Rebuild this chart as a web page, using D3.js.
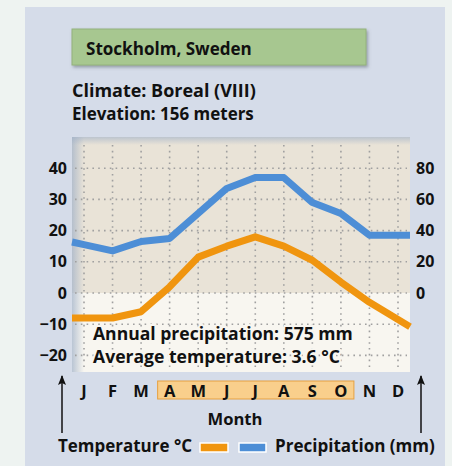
<!DOCTYPE html>
<html><head><meta charset="utf-8">
<script src="https://cdn.jsdelivr.net/npm/d3@7"></script>
<style>
body{margin:0;background:#eef3f1}
svg{display:block}
text{font-family:"Open Sans","Noto Sans",sans-serif;font-weight:bold;fill:#111}
</style>
</head><body><svg id="c" width="452" height="466"></svg>
<script>
const months = ["J","F","M","A","M","J","J","A","S","O","N","D"];
const temperature = [-8,-8,-6,2,11.5,15,18,15,10.5,3.5,-3,-8.5];
const precipitation = [31,27,33,35,51,67,74,74,58,51,37,37];
const tempTicks = [40,30,20,10,0,-10,-20];
const precipTicks = [80,60,40,20,0];
const growingStart = 3, growingEnd = 9;
const title = "Stockholm, Sweden";
const infoLines = ["Climate: Boreal (VIII)","Elevation: 156 meters"];
const summaryLines = ["Annual precipitation: 575 mm","Average temperature: 3.6 °C"];

const svg = d3.select("#c");
const L = 72, R = 410, T = 137, B = 372;
const orange = "#f0950f", blue = "#4d8ed6";

const defs = svg.append("defs");
const gL = defs.append("linearGradient").attr("id","shadeL").attr("x1",0).attr("x2",1).attr("y1",0).attr("y2",0);
gL.append("stop").attr("offset",0).attr("stop-color","#9fb0c8").attr("stop-opacity",0.7);
gL.append("stop").attr("offset",1).attr("stop-color","#9fb0c8").attr("stop-opacity",0);
const gT = defs.append("linearGradient").attr("id","shadeT").attr("x1",0).attr("x2",0).attr("y1",0).attr("y2",1);
gT.append("stop").attr("offset",0).attr("stop-color","#9fb0c8").attr("stop-opacity",0.6);
gT.append("stop").attr("offset",1).attr("stop-color","#9fb0c8").attr("stop-opacity",0);
const f = defs.append("filter").attr("id","sh").attr("x","-10%").attr("y","-20%").attr("width","130%").attr("height","160%");
f.append("feDropShadow").attr("dx",1.5).attr("dy",2).attr("stdDeviation",1.5).attr("flood-color","#55606a").attr("flood-opacity",0.5);

function fit(sel, w){
  sel.each(function(){
    const n = this.getComputedTextLength();
    const fs = parseFloat(d3.select(this).attr("font-size"));
    if(n>0) d3.select(this).attr("font-size", fs*w/n);
  });
}

// panel
svg.append("rect").attr("x",25).attr("y",7).attr("width",420).attr("height",470).attr("fill","#d5dce9");

// title box
svg.append("rect").attr("x",72).attr("y",29).attr("width",294).attr("height",36)
  .attr("fill","#a7c790").attr("stroke","#93b27d").attr("stroke-width",1).attr("filter","url(#sh)");
svg.append("text").attr("x",86).attr("y",55).attr("font-size",16).text(title).call(fit,166);
svg.selectAll("text.info").data(infoLines).join("text").attr("class","info")
  .attr("x",72).attr("y",(d,i)=>97+i*23).attr("font-size",15).text(d=>d)
  .each(function(d,i){ d3.select(this).call(fit, i===0?184:182); });

// scales
const x = d3.scalePoint().domain(d3.range(12)).range([84,398]);
const yT = d3.scaleLinear().domain([-25,50]).range([371,137]);
const yP = d3.scaleLinear().domain([-50,100]).range([371,137]);

// plot background
svg.append("rect").attr("x",L).attr("y",T).attr("width",R-L).attr("height",yT(0)-T).attr("fill","#e9e3d7");
svg.append("rect").attr("x",L).attr("y",yT(0)).attr("width",R-L).attr("height",B-yT(0)).attr("fill","#f8f6f0");
svg.append("rect").attr("x",L).attr("y",T).attr("width",12).attr("height",B-T).attr("fill","url(#shadeL)");
svg.append("rect").attr("x",L).attr("y",T).attr("width",R-L).attr("height",8).attr("fill","url(#shadeT)");

// grid
const grid = svg.append("g").attr("stroke","#a0a0a0").attr("stroke-width",1.6).attr("stroke-dasharray","1.6,4.2");
grid.selectAll("line.h").data(tempTicks).join("line").attr("class","h")
  .attr("x1",L+3).attr("x2",R-3).attr("y1",d=>yT(d)).attr("y2",d=>yT(d));
grid.selectAll("line.v").data(d3.range(12)).join("line").attr("class","v")
  .attr("x1",d=>x(d)).attr("x2",d=>x(d)).attr("y1",T+8).attr("y2",B-1);

// lines extended to plot edges
function extended(vals, ys){
  const p = vals.map((v,i)=>[x(i), ys(v)]);
  const n = p.length;
  const sl = (p[1][1]-p[0][1])/(p[1][0]-p[0][0]);
  const sr = (p[n-1][1]-p[n-2][1])/(p[n-1][0]-p[n-2][0]);
  return [[L, p[0][1]-sl*(p[0][0]-L)], ...p, [R, p[n-1][1]+sr*(R-p[n-1][0])]];
}
const line = d3.line();
svg.append("path").attr("d",line(extended(precipitation,yP))).attr("fill","none")
  .attr("stroke",blue).attr("stroke-width",7).attr("stroke-linejoin","round");
svg.append("path").attr("d",line(extended(temperature,yT))).attr("fill","none")
  .attr("stroke",orange).attr("stroke-width",7).attr("stroke-linejoin","round");

// summary text
svg.selectAll("text.sum").data(summaryLines).join("text").attr("class","sum")
  .attr("x",93).attr("y",(d,i)=>340+i*23).attr("font-size",15)
  .attr("stroke","#f8f6f0").attr("stroke-width",4).attr("paint-order","stroke").text(d=>d)
  .each(function(d,i){ d3.select(this).call(fit, i===0?260:247); });

// axes
const fmt = d => d<0 ? "\u2212"+Math.abs(d) : String(d);
const axL = svg.append("g").attr("transform",`translate(${L},0)`)
  .call(d3.axisLeft(yT).tickValues(tempTicks).tickSize(0).tickPadding(5).tickFormat(fmt));
const axR = svg.append("g").attr("transform",`translate(${R},0)`)
  .call(d3.axisRight(yP).tickValues(precipTicks).tickSize(0).tickPadding(6).tickFormat(fmt));
[axL,axR].forEach(a=>{
  a.select(".domain").remove();
  a.selectAll("text").attr("font-size",16).attr("font-family","\"Open Sans\", sans-serif").attr("font-weight","bold").attr("fill","#111");
});

// growing season box
svg.append("rect").attr("x",x(growingStart)-12).attr("y",381).attr("width",x(growingEnd)-x(growingStart)+25).attr("height",18)
  .attr("fill","#f9cf8c").attr("stroke","#e6a040").attr("stroke-width",1);
svg.selectAll("text.m").data(months).join("text").attr("class","m")
  .attr("x",(d,i)=>x(i)).attr("y",397).attr("text-anchor","middle").attr("font-size",16.5).text(d=>d);
svg.append("text").attr("x",235).attr("y",425).attr("text-anchor","middle").attr("font-size",15).text("Month").call(fit,55);

// arrows
defs.append("marker").attr("id","ah").attr("viewBox","0 0 10 8").attr("refX",9).attr("refY",4)
  .attr("markerWidth",11).attr("markerHeight",8).attr("orient","auto").attr("markerUnits","userSpaceOnUse")
  .append("path").attr("d","M0,0 L10,4 L0,8 L2,4 Z").attr("fill","#111");
[62,421].forEach(ax=>{
  svg.append("line").attr("x1",ax).attr("x2",ax).attr("y1",433).attr("y2",376)
    .attr("stroke","#111").attr("stroke-width",1.5).attr("marker-end","url(#ah)");
});

// legend
svg.append("text").attr("x",58).attr("y",452).attr("font-size",15).text("Temperature \u00B0C").call(fit,134);
svg.append("rect").attr("x",200).attr("y",443).attr("width",28).attr("height",9).attr("fill",orange).attr("stroke","#fff").attr("stroke-width",1.5);
svg.append("rect").attr("x",239).attr("y",443).attr("width",27).attr("height",9).attr("fill",blue).attr("stroke","#fff").attr("stroke-width",1.5);
svg.append("text").attr("x",275).attr("y",452).attr("font-size",15).text("Precipitation (mm)").call(fit,160);
</script></body></html>
